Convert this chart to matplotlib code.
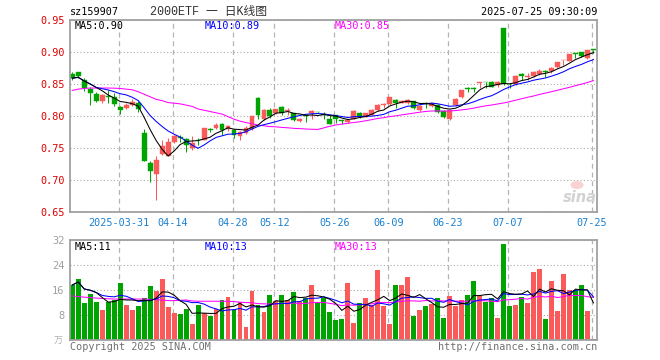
import numpy as np
import pandas as pd
import matplotlib
matplotlib.use("Agg")
import matplotlib.pyplot as plt
from matplotlib.patches import Ellipse

# 2000ETF (sz159907) daily K, 2025-03-19 .. 2025-07-25
opens = [0.866, 0.868, 0.857, 0.842, 0.835, 0.823, 0.831, 0.829, 0.814, 0.812,
         0.817, 0.821, 0.774, 0.727, 0.709, 0.740, 0.738, 0.759, 0.767, 0.764,
         0.750, 0.763, 0.762, 0.779, 0.781, 0.788, 0.779, 0.778, 0.769, 0.773,
         0.779, 0.828, 0.795, 0.809, 0.804, 0.8145, 0.808, 0.804, 0.792, 0.801,
         0.804, 0.806, 0.8025, 0.795, 0.8015, 0.793, 0.790, 0.796, 0.804, 0.799,
         0.802, 0.809, 0.8175, 0.818, 0.825, 0.821, 0.820, 0.823, 0.809, 0.8195,
         0.815, 0.817, 0.808, 0.795, 0.817, 0.829, 0.8425, 0.8425, 0.852, 0.853,
         0.853, 0.848, 0.937, 0.850, 0.850, 0.866, 0.8615, 0.862, 0.865, 0.871,
         0.871, 0.876, 0.887, 0.8865, 0.898, 0.8995, 0.890, 0.9035]
highs = [0.868, 0.869, 0.859, 0.846, 0.838, 0.835, 0.840, 0.836, 0.816, 0.820,
         0.826, 0.824, 0.779, 0.730, 0.737, 0.762, 0.765, 0.771, 0.771, 0.766,
         0.768, 0.766, 0.781, 0.782, 0.789, 0.789, 0.786, 0.779, 0.776, 0.784,
         0.800, 0.830, 0.811, 0.812, 0.811, 0.816, 0.813, 0.805, 0.797, 0.802,
         0.809, 0.807, 0.806, 0.801, 0.8015, 0.794, 0.795, 0.809, 0.806, 0.805,
         0.811, 0.818, 0.8205, 0.830, 0.826, 0.825, 0.826, 0.824, 0.817, 0.822,
         0.821, 0.819, 0.809, 0.810, 0.828, 0.840, 0.845, 0.846, 0.853, 0.853,
         0.854, 0.855, 0.937, 0.851, 0.864, 0.867, 0.867, 0.871, 0.873, 0.872,
         0.877, 0.884, 0.888, 0.897, 0.898, 0.9005, 0.903, 0.9035]
lows = [0.857, 0.860, 0.839, 0.817, 0.822, 0.821, 0.821, 0.816, 0.803, 0.811,
        0.815, 0.806, 0.729, 0.697, 0.669, 0.739, 0.737, 0.758, 0.760, 0.743,
        0.747, 0.754, 0.762, 0.775, 0.779, 0.771, 0.776, 0.765, 0.763, 0.772,
        0.778, 0.795, 0.794, 0.797, 0.803, 0.802, 0.802, 0.792, 0.791, 0.790,
        0.796, 0.804, 0.796, 0.787, 0.789, 0.787, 0.789, 0.795, 0.797, 0.798,
        0.801, 0.808, 0.813, 0.817, 0.813, 0.820, 0.819, 0.811, 0.808, 0.813,
        0.814, 0.805, 0.797, 0.794, 0.816, 0.828, 0.837, 0.837, 0.843, 0.843,
        0.845, 0.846, 0.848, 0.844, 0.849, 0.857, 0.857, 0.861, 0.864, 0.861,
        0.867, 0.875, 0.879, 0.886, 0.891, 0.8925, 0.889, 0.898]
closes = [0.859, 0.862, 0.843, 0.836, 0.823, 0.833, 0.829, 0.819, 0.809, 0.817,
          0.822, 0.811, 0.730, 0.714, 0.732, 0.753, 0.759, 0.768, 0.765, 0.755,
          0.758, 0.762, 0.781, 0.778, 0.786, 0.778, 0.785, 0.770, 0.775, 0.782,
          0.800, 0.802, 0.809, 0.800, 0.811, 0.805, 0.810, 0.794, 0.796, 0.800,
          0.808, 0.8055, 0.802, 0.788, 0.796, 0.7925, 0.794, 0.808, 0.798, 0.804,
          0.810, 0.817, 0.818, 0.829, 0.820, 0.824, 0.825, 0.813, 0.816, 0.819,
          0.820, 0.807, 0.799, 0.809, 0.826, 0.840, 0.842, 0.842, 0.853, 0.8525,
          0.846, 0.853, 0.850, 0.8495, 0.862, 0.862, 0.862, 0.869, 0.871, 0.8695,
          0.8745, 0.884, 0.8875, 0.897, 0.8975, 0.894, 0.903, 0.903]
# volume, 万
volumes = [17.6, 19.5, 11.9, 14.7, 12.3, 9.6, 12.1, 12.8, 18.3, 11.2,
           9.6, 10.9, 13.5, 17.3, 15.7, 19.5, 10.7, 8.7, 8.3, 9.9,
           5.1, 11.2, 8.5, 7.8, 9.9, 12.8, 13.9, 9.6, 12.3, 4.3,
           15.8, 11.2, 9.1, 14.4, 12.5, 14.4, 12.8, 15.5, 12.6, 13.3,
           17.6, 11.7, 13.5, 9.1, 6.4, 6.7, 18.3, 5.5, 11.9, 13.4,
           11.2, 22.4, 10.9, 5.1, 17.6, 17.6, 20.2, 7.7, 9.6, 10.9,
           11.5, 13.4, 7.0, 14.1, 10.9, 12.8, 14.4, 18.9, 14.1, 12.3,
           13.4, 7.0, 30.7, 10.9, 11.2, 13.8, 11.9, 21.8, 22.7, 6.7,
           18.9, 9.4, 21.1, 16.0, 16.0, 17.6, 9.4, 0.3]

# MA30 for the first days (history before the window)
ma30_head = [0.840, 0.842, 0.843, 0.8437, 0.8437, 0.8437, 0.8437, 0.8435, 0.843, 0.842,
             0.841, 0.838, 0.834, 0.830, 0.826, 0.824, 0.821, 0.820, 0.819, 0.817,
             0.815, 0.811, 0.809, 0.807, 0.805, 0.803, 0.799, 0.795, 0.792]
vol_ma30_head = [14.1, 13.9, 13.7, 13.6, 13.4, 13.3, 13.2, 13.1, 13.1, 13.1,
                 13.1, 13.1, 13.1, 13.0, 12.9, 12.8, 12.6, 12.6, 12.7, 12.8,
                 12.5, 12.4, 12.4, 12.4, 12.4, 12.4, 12.4, 12.3, 12.1]

holidays = ["2025-04-04", "2025-05-01", "2025-05-02", "2025-05-05", "2025-06-02"]
tick_dates = ["2025-03-31", "2025-04-14", "2025-04-28", "2025-05-12", "2025-05-26",
              "2025-06-09", "2025-06-23", "2025-07-07", "2025-07-25"]

RED = "#fa5a5a"
GREEN = "#00a400"
GRID = "#aaaaaa"
MONO = "DejaVu Sans Mono"
LW = 0.75

dates = pd.bdate_range("2025-03-19", "2025-07-25")
dates = dates[~dates.isin(pd.to_datetime(holidays))]

o = np.array(opens); h = np.array(highs); l = np.array(lows); c = np.array(closes)
v = np.array(volumes)
x = np.arange(len(c))
colors = [RED if cc >= oo else GREEN for oo, cc in zip(o, c)]

s = pd.Series(c)
ma5 = s.rolling(5, min_periods=1).mean()
ma10 = s.rolling(10, min_periods=1).mean()
ma30 = s.rolling(30).mean().to_numpy()
ma30[:29] = ma30_head

vs = pd.Series(v)
vma5 = vs.rolling(5, min_periods=1).mean()
vma10 = vs.rolling(10, min_periods=1).mean()
vma30 = vs.rolling(30).mean().to_numpy()
vma30[:29] = vol_ma30_head

tick_pos = [dates.get_loc(pd.Timestamp(d)) for d in tick_dates]
tick_lab = [tick_dates[0]] + [d[5:] for d in tick_dates[1:]]

W, H = 660, 360
fig = plt.figure(figsize=(6.6, 3.6), dpi=100)
ax = fig.add_axes([70 / W, 1 - 212 / H, 527 / W, 192 / H])
ax2 = fig.add_axes([70 / W, 1 - 340 / H, 527 / W, 100 / H])

for a in (ax, ax2):
    for sp in a.spines.values():
        sp.set_color("#a0a0a0")
        sp.set_linewidth(1.3)
    a.set_xlim(-0.38, 87.6)
    a.set_xticks([p - 0.25 for p in tick_pos])
    a.xaxis.grid(True, linestyle=(0, (4, 3)), color="#b4b4b4", lw=0.9)
    a.yaxis.grid(True, linestyle=(0, (1, 2)), color=GRID, lw=0.8)
    a.set_axisbelow(True)
    a.tick_params(length=0)

# candles
ax.vlines(x, l, h, color=colors, lw=LW)
body_low = np.minimum(o, c)
body_h = np.maximum(np.abs(c - o), 0.0012)
ax.bar(x, body_h, bottom=body_low, width=0.82, color=colors, edgecolor=colors, linewidth=0.3)
ax.plot(x, ma30, color="#ff00ff", lw=LW)
ax.plot(x, ma10, color="#0000ff", lw=LW)
ax.plot(x, ma5, color="black", lw=LW)

ax.set_ylim(0.65, 0.95)
ax.set_yticks([0.65, 0.70, 0.75, 0.80, 0.85, 0.90, 0.95])
ax.set_yticklabels(["%.2f" % t for t in ax.get_yticks()], color="#e00000",
                   fontsize=7.3, family=MONO)
ax.set_xticklabels(tick_lab, color="#1a80d0", fontsize=7.3, family=MONO)
ax.tick_params(axis="x", pad=4)
ax.tick_params(axis="y", pad=4)

# volume
ax2.bar(x, v, width=0.82, color=colors, linewidth=0)
ax2.plot(x, vma30, color="#ff00ff", lw=LW)
ax2.plot(x, vma10, color="#0000ff", lw=LW)
ax2.plot(x, vma5, color="black", lw=LW)
ax2.set_ylim(0, 32)
ax2.set_yticks([8, 16, 24, 32])
ax2.set_yticklabels(["8", "16", "24", "32"], color="#a0a0a0", fontsize=7.5, family=MONO)
ax2.tick_params(axis="y", pad=4)
ax2.set_xticklabels([])


def ptext(px, py, txt, **kw):
    kw.setdefault("family", MONO)
    kw.setdefault("fontsize", 7.3)
    fig.text(px / W, 1 - py / H, txt, va="center", **kw)


ptext(70, 12, "sz159907")
ptext(150, 12, "2000ETF 一 日K线图", family=["Liberation Mono", "Noto Sans CJK SC"],
      fontsize=8.5, color="#333333")
ptext(597, 12, "2025-07-25 09:30:09", ha="right")

ptext(75, 26, "MA5:0.90", color="black")
ptext(205, 26, "MA10:0.89", color="#0000ff")
ptext(335, 26, "MA30:0.85", color="#ff00ff")

ptext(75, 246.5, "MA5:11", color="black")
ptext(205, 246.5, "MA10:13", color="#0000ff")
ptext(335, 246.5, "MA30:13", color="#ff00ff")

ptext(63, 341, "万", ha="right", family=["Noto Sans CJK SC"], fontsize=6.5, color="#b0b0b0")
ptext(70, 347, "Copyright 2025 SINA.COM", color="#707070")
ptext(597, 347, "http://finance.sina.com.cn", ha="right", color="#707070")

# sina watermark
fig.patches.append(Ellipse((577 / W, 1 - 185 / H), 13 / W, 8 / H, transform=fig.transFigure,
                           facecolor="#f6c8c8", edgecolor="none", alpha=0.8))
ptext(580, 197, "sina", ha="center", fontsize=10.5, style="italic", weight="bold",
      family="DejaVu Sans", color="#d2d2d2")

plt.savefig("out.png", dpi=100)
